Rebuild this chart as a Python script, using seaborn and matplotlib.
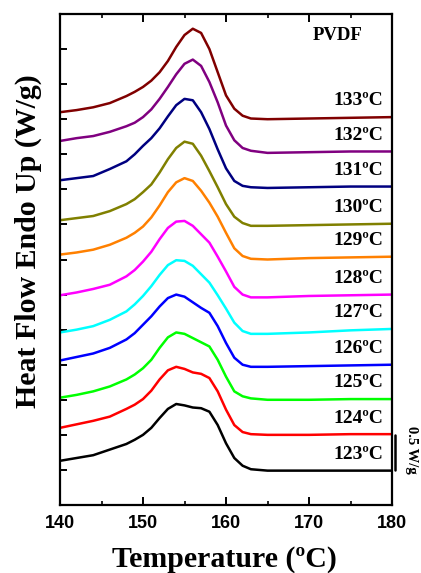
import numpy as np
import pandas as pd
import matplotlib
matplotlib.use("Agg")
import matplotlib.pyplot as plt
import seaborn as sns

# ---------------- data ----------------
temps_c = [140, 142, 144, 146, 148, 149, 150, 151, 152, 153, 154, 155, 156,
           157, 158, 159, 160, 161, 162, 163, 165, 170, 175, 180]

labels = ["123ºC", "124ºC", "125ºC", "126ºC", "127ºC", "128ºC",
          "129ºC", "130ºC", "131ºC", "132ºC", "133ºC"]

hf_123 = [0.63, 0.67, 0.71, 0.79, 0.87, 0.93, 1.00, 1.10, 1.24, 1.37, 1.44, 1.42, 1.39,
          1.38, 1.33, 1.14, 0.88, 0.67, 0.56, 0.51, 0.49, 0.49, 0.49, 0.49]
hf_124 = [1.10, 1.15, 1.20, 1.26, 1.37, 1.43, 1.51, 1.63, 1.79, 1.92, 1.97, 1.94, 1.89,
          1.87, 1.81, 1.62, 1.36, 1.14, 1.04, 1.01, 1.00, 1.00, 1.01, 1.01]
hf_125 = [1.53, 1.57, 1.62, 1.69, 1.79, 1.86, 1.95, 2.07, 2.24, 2.39, 2.46, 2.44, 2.38,
          2.32, 2.26, 2.07, 1.83, 1.62, 1.55, 1.52, 1.50, 1.50, 1.51, 1.51]
hf_126 = [2.06, 2.11, 2.16, 2.24, 2.36, 2.45, 2.57, 2.69, 2.83, 2.95, 3.00, 2.97, 2.89,
          2.81, 2.74, 2.55, 2.31, 2.10, 2.00, 1.97, 1.97, 1.98, 1.99, 2.00]
hf_127 = [2.46, 2.50, 2.55, 2.64, 2.76, 2.86, 2.98, 3.12, 3.28, 3.42, 3.49, 3.48, 3.41,
          3.29, 3.17, 2.99, 2.80, 2.60, 2.48, 2.44, 2.44, 2.46, 2.49, 2.51]
hf_128 = [2.99, 3.03, 3.08, 3.14, 3.26, 3.35, 3.47, 3.61, 3.79, 3.95, 4.04, 4.05, 3.98,
          3.86, 3.74, 3.54, 3.33, 3.11, 3.00, 2.96, 2.96, 2.98, 2.99, 3.00]
hf_129 = [3.57, 3.60, 3.64, 3.71, 3.81, 3.88, 3.97, 4.10, 4.27, 4.46, 4.60, 4.66, 4.62,
          4.48, 4.31, 4.11, 3.88, 3.66, 3.55, 3.51, 3.50, 3.52, 3.53, 3.54]
hf_130 = [4.06, 4.09, 4.12, 4.19, 4.29, 4.36, 4.46, 4.57, 4.74, 4.93, 5.09, 5.18, 5.15,
          4.98, 4.76, 4.53, 4.29, 4.11, 4.02, 3.98, 3.98, 3.99, 4.00, 4.01]
hf_131 = [4.63, 4.66, 4.69, 4.79, 4.90, 5.00, 5.12, 5.23, 5.37, 5.54, 5.70, 5.79, 5.77,
          5.60, 5.36, 5.07, 4.80, 4.62, 4.55, 4.53, 4.52, 4.53, 4.54, 4.54]
hf_132 = [5.19, 5.23, 5.26, 5.32, 5.40, 5.45, 5.53, 5.64, 5.79, 5.96, 6.14, 6.29, 6.35,
          6.26, 6.03, 5.74, 5.41, 5.20, 5.09, 5.05, 5.02, 5.03, 5.04, 5.04]
hf_133 = [5.60, 5.63, 5.67, 5.73, 5.83, 5.89, 5.96, 6.05, 6.17, 6.33, 6.53, 6.70, 6.79,
          6.73, 6.50, 6.17, 5.84, 5.65, 5.55, 5.51, 5.50, 5.51, 5.52, 5.53]

series = [hf_123, hf_124, hf_125, hf_126, hf_127, hf_128,
          hf_129, hf_130, hf_131, hf_132, hf_133]

colors = ["#000000", "#FF0000", "#00FF00", "#0000FF", "#00FFFF", "#FF00FF",
          "#FF8000", "#808000", "#000080", "#800080", "#800000"]

x_ticks = [140, 150, 160, 170, 180]

# ---------------- build table ----------------
rows = []
for lab, vals in zip(labels, series):
    for t, v in zip(temps_c, vals):
        rows.append({"T": t, "HF": v, "Tc": lab})
df = pd.DataFrame(rows)

# ---------------- plot ----------------
sns.set_style("ticks")
plt.rcParams["font.family"] = ["Liberation Serif", "DejaVu Serif"]
plt.rcParams["text.color"] = "black"
plt.rcParams["axes.labelcolor"] = "black"
plt.rcParams["xtick.color"] = "black"
plt.rcParams["ytick.color"] = "black"

fig = plt.figure(figsize=(4.21, 5.73), dpi=100)
ax = fig.add_axes([60 / 421, 68 / 573, 332 / 421, 491 / 573])

sns.lineplot(data=df, x="T", y="HF", hue="Tc", hue_order=labels,
             palette=dict(zip(labels, colors)), linewidth=1.8,
             legend=False, ax=ax, estimator=None, sort=True)

ax.set_xlim(140, 180)
ax.set_ylim(0, 7.0)
ax.set_xticks(x_ticks)
ax.set_xticks([145, 155, 165, 175], minor=True)
ax.set_yticks(np.arange(0.5, 7.0, 0.5))
ax.set_yticklabels([])

for sp in ax.spines.values():
    sp.set_linewidth(1.6)
    sp.set_color("black")
    sp.set_visible(True)

ax.tick_params(axis="x", which="major", direction="in", length=6, width=1.4,
               top=True, pad=7, colors="black")
ax.tick_params(axis="x", which="minor", direction="in", length=3, width=1.2,
               top=True, colors="black")
ax.tick_params(axis="y", which="major", direction="in", length=5, width=1.4,
               left=True, right=False, colors="black")
for lab in ax.get_xticklabels():
    lab.set_fontfamily(["Liberation Sans", "DejaVu Sans"])
    lab.set_fontweight("bold")
    lab.set_fontsize(13)
    lab.set_color("black")

ax.set_xlabel("Temperature (ºC)", fontsize=21.5, fontweight="bold",
              color="black")
ax.set_ylabel("Heat Flow Endo Up (W/g)", fontsize=21.5, fontweight="bold",
              color="black")
ax.xaxis.set_label_coords(0.494, -0.083)
ax.yaxis.set_label_coords(-0.055, 0.537)

# curve labels
for lab, vals in zip(labels, series):
    ax.text(178.9, vals[-1] + 0.23, lab, ha="right", va="center",
            fontsize=14, fontweight="bold", color="black")

ax.text(173.4, 6.69, "PVDF", ha="center", va="center", fontsize=13.5,
        fontweight="bold", color="black")

# scale bar 0.5 W/g
ax.plot([180.4, 180.4], [0.5, 1.0], color="black", linewidth=1.8,
        clip_on=False)
ax.text(182.4, 0.78, "0.5 W/g", rotation=-90, ha="center", va="center",
        fontsize=10.5, fontweight="bold", color="black")

fig.savefig("out.png", dpi=100)
